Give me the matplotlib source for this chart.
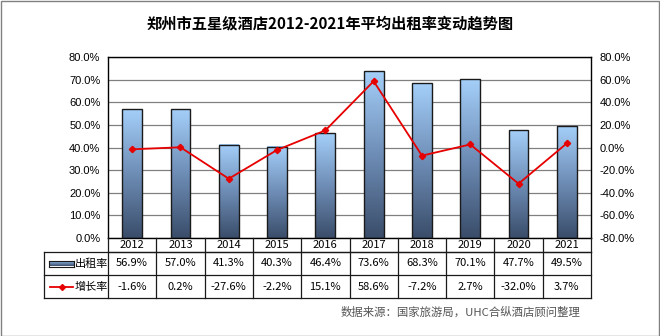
import numpy as np
import matplotlib.pyplot as plt
from matplotlib.colors import LinearSegmentedColormap
from matplotlib.patches import Rectangle
from matplotlib.lines import Line2D

plt.rcParams['font.family'] = ['Liberation Sans', 'Noto Sans CJK SC']

years = ['2012', '2013', '2014', '2015', '2016', '2017', '2018', '2019', '2020', '2021']
occupancy = [56.9, 57.0, 41.3, 40.3, 46.4, 73.6, 68.3, 70.1, 47.7, 49.5]
growth = [-1.6, 0.2, -27.6, -2.2, 15.1, 58.6, -7.2, 2.7, -32.0, 3.7]
occ_labels = ['56.9%', '57.0%', '41.3%', '40.3%', '46.4%', '73.6%', '68.3%', '70.1%', '47.7%', '49.5%']
growth_labels = ['-1.6%', '0.2%', '-27.6%', '-2.2%', '15.1%', '58.6%', '-7.2%', '2.7%', '-32.0%', '3.7%']

W, H = 660, 336
fig = plt.figure(figsize=(W / 100, H / 100), dpi=100)
fig.patches.append(Rectangle((0.5 / W, 0.5 / H), 1 - 1.5 / W, 1 - 1.5 / H, transform=fig.transFigure,
                             fill=False, edgecolor='#808080', lw=1))

left, right, top, bottom = 108, 591, 57, 238
ax = fig.add_axes([left / W, 1 - bottom / H, (right - left) / W, (bottom - top) / H])
x = np.arange(len(years))
ax.set_yticks(np.arange(0, 81, 10))
ax.set_yticklabels(['%.1f%%' % v for v in np.arange(0, 81, 10)], fontsize=8)
ax.set_xticks([])
ax.tick_params(axis='y', length=0, pad=5.5)
ax.grid(axis='y', color='#808080', lw=0.9)
ax.set_axisbelow(True)
for s in ax.spines.values():
    s.set_color('black')
    s.set_linewidth(1)

cmap = LinearSegmentedColormap.from_list('bar', ['#3a4d6a', '#6e8db6', '#a4cff9'])
grad = np.linspace(0, 1, 256).reshape(-1, 1)
bars = ax.bar(x, occupancy, width=0.41, facecolor='none', edgecolor='#1a1a1a', lw=1, zorder=3)
for b in bars:
    ax.imshow(grad, extent=(b.get_x(), b.get_x() + b.get_width(), 0, b.get_height()),
              origin='lower', aspect='auto', cmap=cmap, zorder=2)
ax.set_xlim(-0.5, len(years) - 0.5)
ax.set_ylim(0, 80)

ax2 = ax.twinx()
ax2.set_ylim(-80, 80)
ax2.set_yticks(np.arange(-80, 81, 20))
ax2.set_yticklabels(['%.1f%%' % v for v in np.arange(-80, 81, 20)], fontsize=8)
ax2.tick_params(axis='y', length=0, pad=6)
ax2.plot(x, growth, color='#e60000', lw=1.3, marker='D', ms=3.2, zorder=4)
for s in ax2.spines.values():
    s.set_visible(False)

# data table under the plot
tr = fig.transFigure
def fy(py):
    return 1 - py / H
def fx(px):
    return px / W

col_w = (right - left) / len(years)
row_y = [238, 252, 275, 298]
tab_left = 44
lc = '#1a1a1a'
fig.add_artist(Line2D([fx(left), fx(right)], [fy(row_y[1])] * 2, transform=tr, color=lc, lw=0.9))
for yy in row_y[1:]:
    fig.add_artist(Line2D([fx(tab_left), fx(right)], [fy(yy)] * 2, transform=tr, color=lc, lw=0.9))
fig.add_artist(Line2D([fx(tab_left)] * 2, [fy(row_y[1]), fy(row_y[3])], transform=tr, color=lc, lw=0.9))
for i in range(len(years) + 1):
    xx = left + i * col_w
    fig.add_artist(Line2D([fx(xx)] * 2, [fy(row_y[0]), fy(row_y[3])], transform=tr, color=lc, lw=0.9))

for i in range(len(years)):
    cx = fx(left + (i + 0.5) * col_w)
    fig.text(cx, fy((row_y[0] + row_y[1]) / 2), years[i], ha='center', va='center', fontsize=8,
             family=['Noto Sans CJK SC'])
    fig.text(cx, fy((row_y[1] + row_y[2]) / 2), occ_labels[i], ha='center', va='center', fontsize=8,
             family=['Noto Sans CJK SC'])
    fig.text(cx, fy((row_y[2] + row_y[3]) / 2), growth_labels[i], ha='center', va='center', fontsize=8,
             family=['Noto Sans CJK SC'])

# legend keys in header column
y1 = (row_y[1] + row_y[2]) / 2
kax = fig.add_axes([fx(49), fy(y1 + 3), fx(25), 6 / H])
kax.imshow(grad, origin='lower', aspect='auto', cmap=cmap, extent=(0, 1, 0, 1))
kax.set_xticks([])
kax.set_yticks([])
for s in kax.spines.values():
    s.set_color('#1a1a1a')
fig.text(fx(75), fy(y1), '出租率', ha='left', va='center', fontsize=8, family=['Noto Sans CJK SC'])
y2 = (row_y[2] + row_y[3]) / 2
fig.add_artist(Line2D([fx(50), fx(73)], [fy(y2)] * 2, transform=tr, color='#e60000', lw=1.3))
fig.add_artist(Line2D([fx(61.5)], [fy(y2)], transform=tr, color='#e60000', marker='D', ms=3))
fig.text(fx(75), fy(y2), '增长率', ha='left', va='center', fontsize=8, family=['Noto Sans CJK SC'])

fig.text(0.5, fy(23), '郑州市五星级酒店2012-2021年平均出租率变动趋势图', ha='center', va='center',
         fontsize=11, fontweight='bold', family=['Noto Sans CJK SC'])
fig.text(fx(580), fy(312), '数据来源：国家旅游局，UHC合纵酒店顾问整理', ha='right', va='center',
         fontsize=8.2, color='#555555', family=['Noto Sans CJK SC'])

fig.savefig('out.png', dpi=100)
